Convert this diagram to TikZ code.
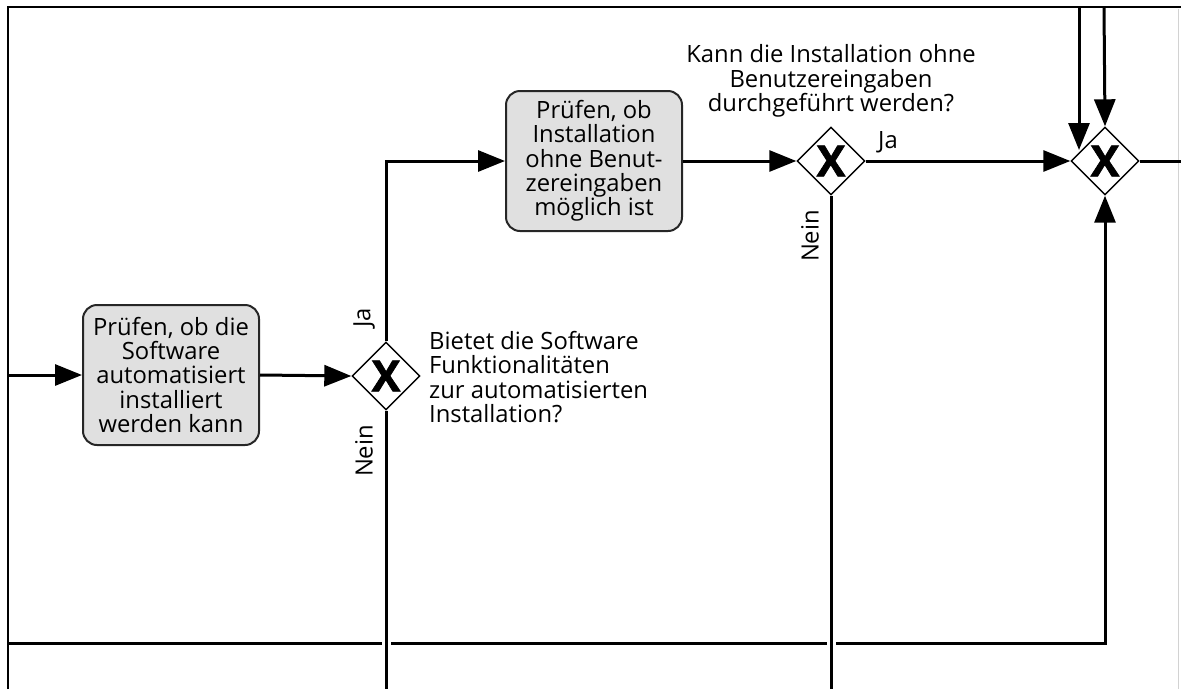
\documentclass[tikz,border=0pt]{standalone}
\usepackage{fontspec}
\setmainfont{Open Sans}
\newfontfamily\gatefont[BoldFeatures={FakeBold=1.6}]{Open Sans}
\usetikzlibrary{shapes.geometric,arrows.meta}
\definecolor{taskfill}{HTML}{E0E0E0}
\tikzset{
  x=1pt,y=-1pt,
  every node/.style={font=\fontsize{23.8}{24.3}\selectfont},
  task/.style={draw=black!85, line width=2pt, rounded corners=14pt, fill=taskfill,
    minimum width=176pt, minimum height=140pt, align=center, inner sep=0pt},
  gate/.style={diamond, draw=black, line width=1.4pt, fill=white, aspect=1,
    minimum width=68pt, minimum height=68pt, inner sep=0pt,
    label={[font=\gatefont\fontsize{43}{43}\selectfont\bfseries]center:X}},
  flow/.style={line width=3pt, -{Triangle[length=27pt,width=21pt]}},
  plain/.style={line width=3pt},
  frame/.style={line width=2.5pt},
  lbl/.style={inner sep=0pt},
}
\begin{document}
\begin{tikzpicture}
\useasboundingbox (0,0) rectangle (1181,689);
% frame
\coordinate (ftl) at (8,7);
\coordinate (fbl) at (8,689);
\coordinate (ftr) at (1181,7);
\draw[frame] (fbl) -- (ftl) -- (ftr);
\draw[gray!35, line width=1pt] (1178,9) -- (1178,689);

% nodes
\node[task] (t1) at (171,375) {Prüfen, ob die\\Software\\automatisiert\\installiert\\werden kann};
\node[gate] (g1) at (386,376) {};
\node[task] (t2) at (594,161) {Prüfen, ob\\Installation\\ohne Benut-\\zereingaben\\möglich ist};
\node[gate] (g2) at (831,161) {};
\node[gate] (g3) at (1105,161) {};

% texts
\node[lbl, align=left, anchor=west] (q1) at (429,377) {Bietet die Software\\Funktionalitäten\\zur automatisierten\\Installation?};
\node[lbl, align=center] (q2) at (831,81) {Kann die Installation ohne\\Benutzereingaben\\durchgeführt werden?};
\node[lbl, rotate=90] (ja1) at (364,318) {Ja};
\node[lbl, rotate=90] (nein1) at (364,451) {Nein};
\node[lbl] (ja2) at (888,142) {Ja};
\node[lbl, rotate=90] (nein2) at (810,236) {Nein};

% coordinates
\coordinate (in1) at (8,375);
\coordinate (out3) at (1181,161);
\coordinate (top1) at (1079,7);
\coordinate (top1e) at (1079,150);
\coordinate (top2) at (1104,7);
\coordinate (bot1) at (386,689);
\coordinate (bot2) at (831,689);
\coordinate (loopS) at (8,643);

% bottom loop first (crossed by verticals)
\draw[flow] (loopS) -| (g3.south);

% connectors
\draw[flow] (in1) -- (t1.west);
\draw[flow] (t1.east) -- (g1.west);
\draw[flow] (g1.north) |- (t2.west);
\draw[flow] (t2.east) -- (g2.west);
\draw[flow] (g2.east) -- (g3.west);
\draw[plain] (g3.east) -- (out3);
\draw[flow] (top1) -- (top1e);
\draw[flow] (top2) -- (g3.north);
\draw[plain, preaction={draw=white, line width=9pt}] (g1.south) -- (bot1);
\draw[plain, preaction={draw=white, line width=9pt}] (g2.south) -- (bot2);
\end{tikzpicture}
\end{document}
